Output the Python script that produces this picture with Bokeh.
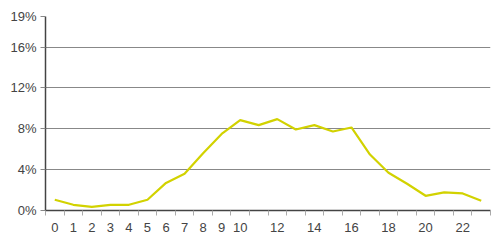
from bokeh.plotting import figure
from bokeh.models import FixedTicker, Range1d
from bokeh.embed import file_html
from bokeh.resources import INLINE

hours = list(range(24))
share = [1.05, 0.56, 0.36, 0.56, 0.56, 1.05, 2.7, 3.6, 5.6, 7.5, 8.85, 8.36,
         8.95, 7.93, 8.36, 7.74, 8.13, 5.48, 3.7, 2.62, 1.44, 1.77, 1.67, 0.95]
x_label_ticks = list(range(11)) + [12, 14, 16, 18, 20, 22]
y_ticks = [0, 4, 8, 12, 16, 19]
y_labels = {t: f"{t}%" for t in y_ticks}

p = figure(width=500, height=240, output_backend="svg", toolbar_location=None,
           x_range=Range1d(-0.5, 23.5), y_range=Range1d(0, 19),
           min_border_left=45, min_border_right=10, min_border_top=16, min_border_bottom=30)
p.outline_line_color = None
p.background_fill_color = "white"
p.border_fill_color = "white"

p.line(hours, share, line_color="#d2d200", line_width=2.2)

# x axis
p.xaxis.ticker = FixedTicker(ticks=x_label_ticks, minor_ticks=[h - 0.5 for h in range(25)])
p.xaxis.major_tick_line_color = None
p.xaxis.minor_tick_line_color = "#aaaaaa"
p.xaxis.minor_tick_out = 5
p.xaxis.minor_tick_in = 0
p.xaxis.axis_line_color = "#444444"
p.xaxis.axis_line_width = 1.5
p.xaxis.major_label_text_font = "Liberation Sans"
p.xaxis.major_label_text_font_size = "13px"
p.xaxis.major_label_text_color = "#444444"
p.xaxis.major_label_standoff = 6
p.xgrid.grid_line_color = None

# y axis
p.yaxis.ticker = FixedTicker(ticks=y_ticks)
p.yaxis.major_label_overrides = y_labels
p.yaxis.minor_tick_line_color = None
p.yaxis.major_tick_line_color = "#888888"
p.yaxis.major_tick_out = 5
p.yaxis.major_tick_in = 0
p.yaxis.axis_line_color = "#444444"
p.yaxis.axis_line_width = 1.5
p.yaxis.major_label_text_font = "Liberation Sans"
p.yaxis.major_label_text_font_size = "13px"
p.yaxis.major_label_text_color = "#444444"
p.yaxis.major_label_standoff = 4
p.ygrid.grid_line_color = "#888888"
p.ygrid.grid_line_width = 1

open("out.html", "w").write(file_html(p, INLINE))
